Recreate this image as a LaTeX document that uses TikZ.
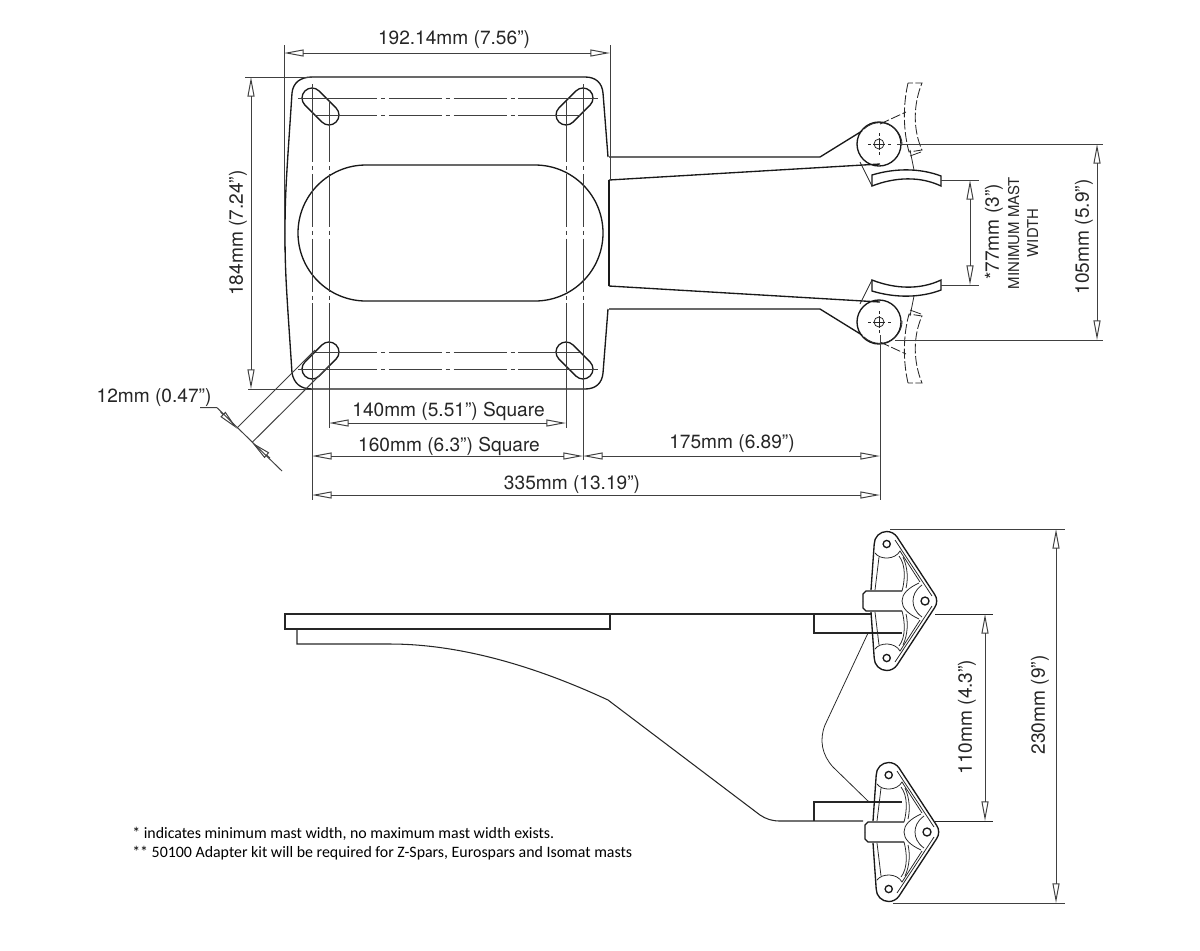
\documentclass[tikz,border=0pt]{standalone}
\usepackage{fontspec}
\setmainfont{TeX Gyre Heros}
\newfontfamily\notefont{Carlito}
\usetikzlibrary{arrows.meta}
\tikzset{
	part/.style={line width=0.95pt,color=black!90},
	sidepart/.style={line width=0.75pt,color=black!85},
	fine/.style={line width=0.55pt,color=black!85},
	ext/.style={line width=0.7pt,color=black!75},
	dimline/.style={line width=0.7pt,color=black!75,<->,>={Triangle[open,length=14pt,width=5pt]}},
	centreline/.style={line width=0.65pt,color=black!75,dash pattern=on 37.7pt off 2.8pt on 2.8pt off 2.8pt,dash phase=4.3pt},
	hidden/.style={line width=0.6pt,color=black!85,dash pattern=on 7pt off 1.8pt},
	dimtext/.style={font=\fontsize{13.6}{15}\selectfont,color=black!85,inner sep=0pt},
	smalltext/.style={font=\fontsize{10.6}{13.5}\selectfont,color=black!85,inner sep=0pt,align=center},
	notetext/.style={font=\fontsize{11.3}{13}\notefont,anchor=west,inner sep=0pt}
}
% one slot of the mounting plate, from its first hole
\newcommand{\plateslot}[2]{
	\begin{scope}[shift={#1},rotate=#2]
		\draw[part] (0,10) arc (90:270:10) -- (24,-10) arc (-90:90:10) -- cycle;
	\end{scope}
}
% upper half of the jaw seen from above
\newcommand{\jawhalf}{
	\draw[part] (609,157) -- (820,157) -- (862,131);
	\draw[part] (609,180) -- (880,164);
	\draw[part] (879,144) circle (22);
	\draw[fine] (864,129) arc (226:360:22.5);
	\draw[fine] (879,144) circle (5);
	\draw[fine] (873,144) -- (885,144) (879,138) -- (879,150);
	\draw[fine] (868,144) -- (871,144) (888,144) -- (891,144) (879,133) -- (879,136) (879,152) -- (879,155);
	\draw[part] (872,175) .. controls (895,168) and (920,168) .. (941,176) -- (941,186)
		.. controls (920,176) and (895,177) .. (872,186) -- cycle;
	\draw[fine] (860,162) -- (872,186);
	\draw[fine] (910,150) -- (914,170);
	\draw[hidden] (880,124) -- (906,112);
	\draw[hidden] (908,83) .. controls (903,105) and (903,130) .. (909,152) -- (922,150)
		.. controls (913,130) and (913,105) .. (922,83) -- cycle;
	\draw[fine] (910,156) -- (921,152);
}
% upper half of the bracket seen from the side
\newcommand{\brackethalf}{
	\draw[part] (871,590) -- (874.2,544) arc (180:326:12.5) -- (934.7,594.5) arc (326:360:11.7);
	\draw[fine] (875,590) -- (879,557);
	\draw[fine] (895,540) -- (932,596);
	\draw[fine] (875,553) .. controls (880,560) and (895,560) .. (900,551) -- (920,582);
	\draw[fine] (899,556) .. controls (906,565) and (905,580) .. (902,591);
	\draw[fine] (903,557) .. controls (908,568) and (908,580) .. (906,588);
	\draw[fine] (919,583) .. controls (908,588) and (902,594) .. (902,601);
	\draw[fine] (922,585) .. controls (915,590) and (913,596) .. (913,601);
	\draw[part] (902,591) -- (866,591) -- (863,594) -- (863,601);
	\draw[part] (886.7,544) circle (3.6);
}
\newcommand{\bracketwhole}{
	\brackethalf
	\begin{scope}[shift={(0,1202)},yscale=-1]
		\brackethalf
	\end{scope}
	\draw[part] (925,601) circle (4);
}
\begin{document}
\begin{tikzpicture}[x=0.025cm,y=-0.025cm]
	\useasboundingbox (0,0) rectangle (1200,950);
	% plate from above
	\draw[part] (285,233) .. controls (285,190) and (287,170) .. (292,93)
		.. controls (293,83) and (300,77) .. (312,77) -- (585,77)
		.. controls (596,77) and (602,83) .. (603,93) -- (608,157);
	\draw[part] (285,233) .. controls (285,276) and (287,296) .. (292,373)
		.. controls (294,383) and (300,389) .. (312,389) -- (585,389)
		.. controls (596,389) and (602,383) .. (603,373) -- (608,309);
	\draw[part] (609,180) -- (609,286);
	\draw[part] (366,165) -- (535,165) arc (-90:90:68) -- (366,301) arc (90:270:68);
	\plateslot{(312,98)}{-45}
	\plateslot{(583,98)}{-135}
	\plateslot{(329,352)}{-135}
	\plateslot{(566,352)}{-45}
	% centre lines through the holes
	\draw[centreline] (330,98) -- (566,98);
	\draw[centreline] (330,115) -- (566,115);
	\draw[centreline] (330,352) -- (566,352);
	\draw[centreline] (330,369) -- (566,369);
	\draw[centreline] (312,115) -- (312,352);
	\draw[centreline] (329,115) -- (329,352);
	\draw[centreline] (566,115) -- (566,352);
	\draw[centreline] (583,115) -- (583,352);
	\draw[ext] (298,98) -- (330,98) (566,98) -- (598,98);
	\draw[ext] (315,115) -- (330,115) (566,115) -- (580,115);
	\draw[ext] (315,352) -- (330,352) (566,352) -- (580,352);
	\draw[ext] (298,369) -- (330,369) (566,369) -- (598,369);
	\draw[ext] (312,84) -- (312,115) (329,101) -- (329,115) (566,101) -- (566,115) (583,84) -- (583,115);
	\draw[ext] (312,352) -- (312,500) (329,352) -- (329,428) (566,352) -- (566,428) (583,352) -- (583,460);
	% jaws
	\jawhalf
	\begin{scope}[shift={(0,466)},yscale=-1]
		\jawhalf
	\end{scope}
	% side view
	\draw[sidepart] (285,614) rectangle (610,629);
	\draw[sidepart] (297,629) -- (297,644) -- (390,644) .. controls (470,644) and (550,673) .. (608,700)
		-- (760,815) .. controls (766,819) and (772,821) .. (780,821) -- (863,821);
	\draw[sidepart] (610,614) -- (871,614);
	\draw[fine] (935,614) -- (993,614);
	\draw[fine] (935,821) -- (993,821);
	\draw[sidepart] (814,614) -- (814,633) -- (902,633);
	\draw[sidepart] (814,821) -- (814,802) -- (902,802);
	\draw[fine] (868,633) -- (825,725) .. controls (819,740) and (822,755) .. (833,767) -- (869,802);
	\bracketwhole
	\begin{scope}[shift={(2,231)}]
		\bracketwhole
	\end{scope}
	% dimensions of the plate
	\draw[ext] (284.5,45) -- (284.5,250) (610,45) -- (610,180);
	\draw[dimline] (284,53) -- (610,53);
	\node[dimtext] (widthtext) at (454,40) {192.14mm (7.56”)};
	\draw[ext] (245,77) -- (312,77) (248,389) -- (312,389);
	\draw[dimline] (251,77) -- (251,389);
	\node[dimtext,rotate=90] (heighttext) at (238,233) {184mm (7.24”)};
	\draw[dimline] (329,423) -- (566,423);
	\node[dimtext] (squaresmall) at (448.5,411) {140mm (5.51”) Square};
	\draw[dimline] (312,456) -- (583,456);
	\node[dimtext] (squarelarge) at (449,446) {160mm (6.3”) Square};
	\draw[dimline] (583,456) -- (880,456);
	\node[dimtext] (reachtext) at (732,444) {175mm (6.89”)};
	\draw[ext] (880,335) -- (880,500);
	\draw[dimline] (312,495) -- (880,495);
	\node[dimtext] (overalltext) at (572,485) {335mm (13.19”)};
	% slot width
	\draw[ext] (315,350) -- (236.7,428.3) (330,365) -- (252,442.5);
	\draw[ext] (200,407.7) -- (217,407.7) -- (282,471);
	\draw[ext,-{Triangle[open,length=14pt,width=5pt]}] (220.7,412) -- (236.7,428.3);
	\draw[ext,-{Triangle[open,length=14pt,width=5pt]}] (270,458) -- (252,442.5);
	\node[dimtext] (slottext) at (154,398) {12mm (0.47”)};
	% dimensions of the jaws
	\draw[ext] (941,180) -- (979,180) (941,285) -- (979,285);
	\draw[dimline] (970,180) -- (970,285);
	\node[dimtext,rotate=90] (masttext) at (994,232) {*77mm (3”)};
	\node[smalltext,rotate=90] (mastnote) at (1023,233) {MINIMUM MAST\\WIDTH};
	\draw[ext] (897,144) -- (1103,144) (895,340) -- (1103,340);
	\draw[dimline] (1097,144) -- (1097,340);
	\node[dimtext,rotate=90] (spantext) at (1084,237) {105mm (5.9”)};
	% dimensions of the side view
	\draw[dimline] (985,614) -- (985,821);
	\node[dimtext,rotate=90] (pivottext) at (967,717) {110mm (4.3”)};
	\draw[ext] (890,529) -- (1065,529) (893,903) -- (1065,903);
	\draw[dimline] (1056,529) -- (1056,903);
	\node[dimtext,rotate=90] (totaltext) at (1040,705) {230mm (9”)};
	% notes
	\node[notetext] (noteone) at (132,834) {* indicates minimum mast width, no maximum mast width exists.};
	\node[notetext] (notetwo) at (132,853) {** 50100 Adapter kit will be required for Z-Spars, Eurospars and Isomat masts};
\end{tikzpicture}
\end{document}
